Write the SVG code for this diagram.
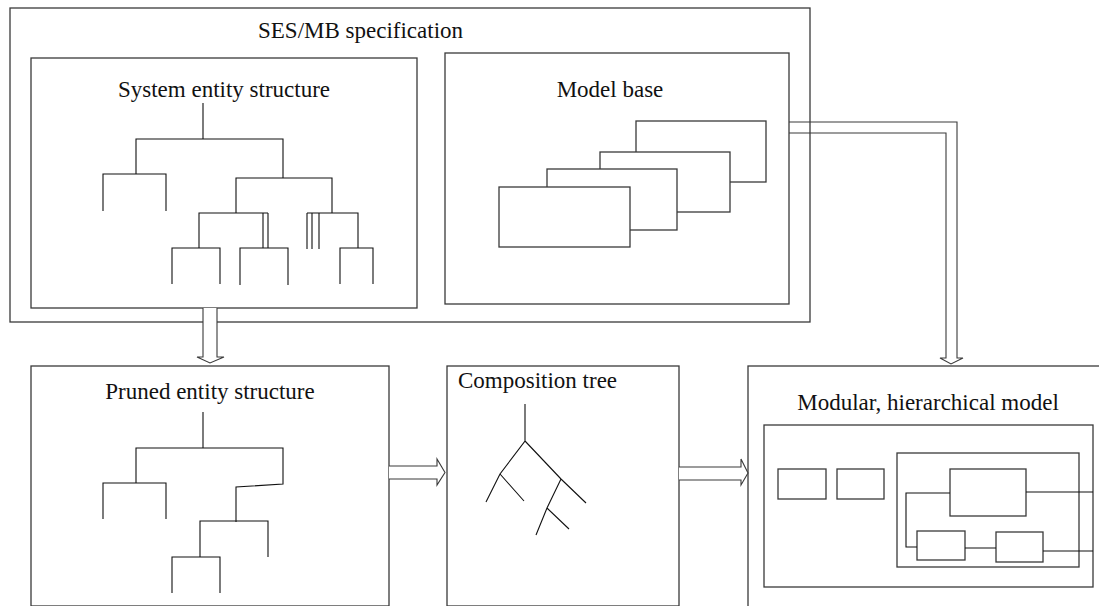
<svg xmlns="http://www.w3.org/2000/svg" width="1099" height="606" viewBox="0 0 1099 606">
<style>
.box{fill:none;stroke:#3a3a3a;stroke-width:1.3}
.wbox{fill:#fff;stroke:#3a3a3a;stroke-width:1.3}
.ln{fill:none;stroke:#111;stroke-width:1.1}
.arr{fill:#fff;stroke:#3a3a3a;stroke-width:1.1}
.arrn{fill:none;stroke:#3a3a3a;stroke-width:1.1}
text{font-family:"Liberation Serif","Times New Roman",serif;font-size:23px;fill:#111}
</style>
<rect width="1099" height="606" fill="#fff"/>
<g id="ses-mb">
<rect class="box" x="10" y="8" width="800" height="314"/>
<text x="258" y="38">SES/MB specification</text>
</g>
<g id="ses">
<rect class="box" x="31" y="58" width="386" height="250"/>
<text x="224" y="97" text-anchor="middle">System entity structure</text>
<path class="ln" d="M203,103V139M136,174V139H283V178M103,211V174H166V211M236,213V178H332V213M199,248V213H268M263,213V248M268,213V248M172,284V248H220V284M240,285V248H288V285M307,213H358V248M307,213V249M312,213V249M319,213V249M340,284V248H373V284"/>
</g>
<g id="model-base">
<rect class="box" x="445" y="53" width="344" height="251"/>
<text x="610" y="97" text-anchor="middle">Model base</text>
<rect class="wbox" x="636" y="121" width="130" height="61"/>
<rect class="wbox" x="600" y="152" width="130" height="60"/>
<rect class="wbox" x="547" y="169" width="130" height="61"/>
<rect class="wbox" x="499" y="187" width="131" height="60"/>
</g>
<g id="pruned">
<rect class="box" x="31" y="366" width="358" height="240"/>
<text x="210" y="399" text-anchor="middle">Pruned entity structure</text>
<path class="ln" d="M203,412V448M136,483V448H283V484L236,487V522M103,519V483H166V519M200,557V521H268V557M172,593V557H220V593"/>
</g>
<g id="composition">
<rect class="box" x="447" y="366" width="232" height="240"/>
<text x="458" y="388">Composition tree</text>
<path class="ln" d="M525,404V441L500,474L486,502M500,474L524,501M525,441L561,479L586,503M561,479L547,508L536,535M547,508L569,529"/>
</g>
<g id="modular">
<rect class="box" x="748" y="366" width="360" height="245"/>
<text x="928" y="410" text-anchor="middle">Modular, hierarchical model</text>
<rect class="box" x="764" y="425" width="329" height="162"/>
<rect class="box" x="778" y="469" width="48" height="30"/>
<rect class="box" x="837" y="469" width="47" height="30"/>
<rect class="box" x="897" y="453" width="182" height="114"/>
<rect class="box" x="950" y="469" width="76" height="47"/>
<rect class="box" x="917" y="531" width="48" height="29"/>
<rect class="box" x="996" y="532" width="47" height="30"/>
<path class="ln" d="M950,493H906V547H917M965,548H996M1043,551H1093M1026,492H1093"/>
</g>
<g id="connectors">
<path class="arr" d="M203,308V357H197L210,363L224,357H217V308"/>
<path class="arrn" d="M789,122H957V358H963L951,364L940,358H946V133H789"/>
<path class="arr" d="M389,466H437V459L445,472.5L437,485V479H389"/>
<path class="arr" d="M679,467H741V459L748,473L741,485V480H679"/>
</g>
</svg>
